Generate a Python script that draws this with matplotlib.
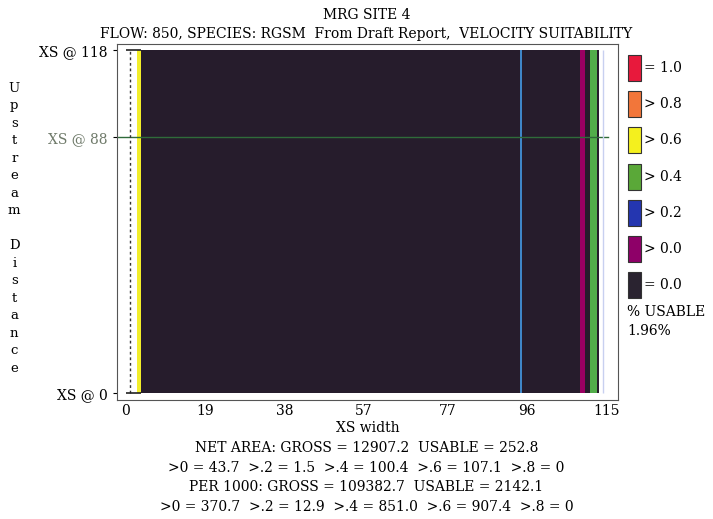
import matplotlib
matplotlib.use("Agg")
import matplotlib.pyplot as plt

# suitability classes, legend order
classes = ["= 1.0", "> 0.8", "> 0.6", "> 0.4", "> 0.2", "> 0.0", "= 0.0"]
class_colors = ["#e8193c", "#f2763a", "#f4f01e", "#5aa838", "#2436b0", "#8e0068", "#2a2330"]
field_colors = {"> 0.6": "#f2ee2a", "> 0.4": "#52ad4a", "> 0.2": "#3f86c8",
                "> 0.0": "#9a0062", "= 0.0": "#261c2c"}

# cells across the cross section (edges in XS width units)
cell_edges = [2.6, 3.6, 94.5, 94.8, 108.8, 110.0, 111.2, 112.8, 113.3]
cell_class = ["> 0.6", "= 0.0", "> 0.2", "= 0.0", "> 0.0", "= 0.0", "> 0.4", "= 0.0"]
xs_top = 118
xs_mark = 88

x_ticks = [0, 19, 38, 57, 77, 96, 115]
y_ticks = [0, 88, 118]
y_labels = ["XS @ 0", "XS @ 88", "XS @ 118"]

pct_usable = "1.96%"
stats = ["NET AREA: GROSS = 12907.2  USABLE = 252.8",
         ">0 = 43.7  >.2 = 1.5  >.4 = 100.4  >.6 = 107.1  >.8 = 0",
         "PER 1000: GROSS = 109382.7  USABLE = 2142.1",
         ">0 = 370.7  >.2 = 12.9  >.4 = 851.0  >.6 = 907.4  >.8 = 0"]

plt.rcParams["font.family"] = "DejaVu Serif"
fig = plt.figure(figsize=(7.13, 5.19), dpi=100)
ax = fig.add_axes([0.164, 0.229, 0.703, 0.686])

lefts = cell_edges[:-1]
widths = [b - a for a, b in zip(cell_edges[:-1], cell_edges[1:])]
ax.bar(lefts, [xs_top] * len(lefts), width=widths, align="edge",
       color=[field_colors[c] for c in cell_class], linewidth=0)

ax.axhline(xs_mark, xmin=0, xmax=0.98, color="#2f6b3a", lw=1)
ax.vlines(1.0, 0, xs_top, colors="#333333", linestyles=(0, (2, 2)), lw=1)
ax.vlines(114.3, 0, xs_top, colors="#c8d0f0", lw=1)
ax.hlines([0, xs_top], 0, 3.6, colors="#222222", lw=1.2)

ax.set_xlim(-2.16, 117.9)
ax.set_ylim(-2.4, 120.1)
ax.set_xticks(x_ticks)
ax.set_yticks(y_ticks)
ax.set_yticklabels(y_labels)
ax.tick_params(axis="x", length=0, labelsize=10, pad=3)
ax.tick_params(axis="y", length=3, labelsize=10)
ax.get_yticklabels()[1].set_color("#6f7a6a")
for s in ax.spines.values():
    s.set_color("#555555")

ax.set_xlabel("XS width", fontsize=10, labelpad=2)
fig.text(0.514, 0.971, "MRG SITE 4", ha="center", va="center", fontsize=10)
fig.text(0.514, 0.934, "FLOW: 850, SPECIES: RGSM  From Draft Report,  VELOCITY SUITABILITY",
         ha="center", va="center", fontsize=10)
fig.text(0.02, 0.56, "\n".join("Upstream Distance"), ha="center", va="center",
         fontsize=9.5, linespacing=1.45)

for i, line in enumerate(stats):
    fig.text(0.514, 0.137 - i * 0.038, line, ha="center", va="center", fontsize=10)

# legend
for i, (lab, col) in enumerate(zip(classes, class_colors)):
    yc = 1 - (68 + i * 36.2) / 519
    fig.patches.append(plt.Rectangle((628 / 713, yc - 13 / 519), 13 / 713, 26 / 519,
                                     transform=fig.transFigure, facecolor=col,
                                     edgecolor="#333333", lw=0.8))
    fig.text(644 / 713, yc, lab, ha="left", va="center", fontsize=10)
fig.text(627 / 713, 1 - 312 / 519, "% USABLE", ha="left", va="center", fontsize=10)
fig.text(627 / 713, 1 - 331 / 519, pct_usable, ha="left", va="center", fontsize=10)

fig.savefig("out.png", dpi=100)
